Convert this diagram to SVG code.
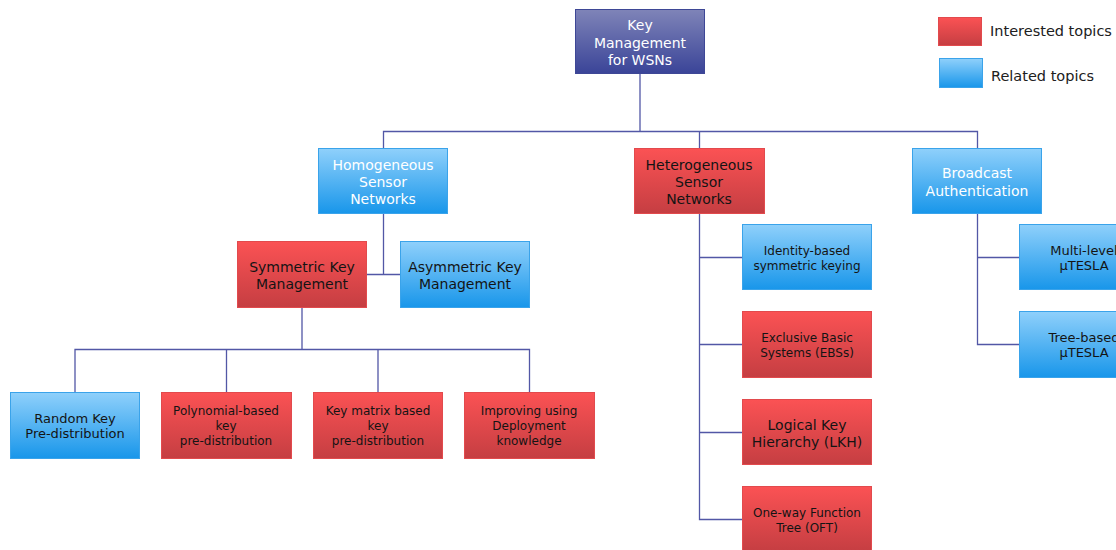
<svg xmlns="http://www.w3.org/2000/svg" width="1116" height="550" viewBox="0 0 1116 550">
<defs>
<linearGradient id="gRed" x1="0" y1="0" x2="0" y2="1"><stop offset="0" stop-color="#fb5254"/><stop offset="1" stop-color="#c53e42"/></linearGradient>
<linearGradient id="gBlue" x1="0" y1="0" x2="0" y2="1"><stop offset="0" stop-color="#8fd0fb"/><stop offset="1" stop-color="#1896ea"/></linearGradient>
<linearGradient id="gPurple" x1="0" y1="0" x2="0" y2="1"><stop offset="0" stop-color="#7f84b8"/><stop offset="1" stop-color="#3a4498"/></linearGradient>
<style>
.red{fill:url(#gRed);stroke:#e24a4d;stroke-width:1}
.blue{fill:url(#gBlue);stroke:#3aa3ea;stroke-width:1}
.purple{fill:url(#gPurple);stroke:#3e4796;stroke-width:1}
text{font-family:"DejaVu Sans",Verdana,sans-serif;text-anchor:middle;fill:#141414}
.w{fill:#ffffff}
.t14{font-size:14px}
.t13{font-size:13px}
.t12{font-size:12px}
.lg{font-size:14.5px;text-anchor:start;fill:#202020}
.conn path{fill:none;stroke:#5257a6;stroke-width:1.3}
</style>
</defs>
<rect width="1116" height="550" fill="#ffffff"/>
<g class="conn">
<path d="M640 73 V131.5 M383.5 148 V131.5 H977.5 V148 M699.5 131.5 V148"/>
<path d="M383.5 213 V274.5 M366 274.5 H400"/>
<path d="M302 307 V349.5 M75 392 V349.5 H529.5 V392 M226.5 349.5 V392 M378 349.5 V392"/>
<path d="M699.5 213 V519.5 H742 M699.5 257.5 H742 M699.5 344.5 H742 M699.5 432.5 H742"/>
<path d="M977.5 213 V344.5 H1019 M977.5 257.5 H1019"/>
</g>
<g id="root"><rect class="purple" x="575.5" y="9.5" width="129" height="64"/>
<text class="t14 w" x="640" y="30">Key</text><text class="t14 w" x="640" y="47.5">Management</text><text class="t14 w" x="640" y="64.5">for WSNs</text></g>
<g id="legend-red"><rect class="red" x="938.5" y="17.5" width="43" height="28"/><text class="lg" x="990" y="36">Interested topics</text></g>
<g id="legend-blue"><rect class="blue" x="939.5" y="58.5" width="43" height="29"/><text class="lg" x="991" y="81">Related topics</text></g>
<g id="homogeneous"><rect class="blue" x="318.5" y="148.5" width="129" height="65"/>
<text class="t14 w" x="383" y="169.5">Homogeneous</text><text class="t14 w" x="383" y="187">Sensor</text><text class="t14 w" x="383" y="204">Networks</text></g>
<g id="heterogeneous"><rect class="red" x="634.5" y="148.5" width="130" height="65"/>
<text class="t14" x="699" y="169.5">Heterogeneous</text><text class="t14" x="699" y="187">Sensor</text><text class="t14" x="699" y="204">Networks</text></g>
<g id="broadcast"><rect class="blue" x="912.5" y="148.5" width="129" height="65"/>
<text class="t14 w" x="977" y="178">Broadcast</text><text class="t14 w" x="977" y="195.5">Authentication</text></g>
<g id="symmetric"><rect class="red" x="237.5" y="241.5" width="129" height="66"/>
<text class="t14" x="302" y="272">Symmetric Key</text><text class="t14" x="302" y="289">Management</text></g>
<g id="asymmetric"><rect class="blue" x="400.5" y="241.5" width="129" height="66"/>
<text class="t14" x="465" y="272">Asymmetric Key</text><text class="t14" x="465" y="289">Management</text></g>
<g id="random"><rect class="blue" x="10.5" y="392.5" width="129" height="66"/>
<text class="t13" x="75" y="422.5">Random Key</text><text class="t13" x="75" y="438">Pre-distribution</text></g>
<g id="polynomial"><rect class="red" x="161.5" y="392.5" width="130" height="66"/>
<text class="t12" x="226" y="415">Polynomial-based</text><text class="t12" x="226" y="430">key</text><text class="t12" x="226" y="445">pre-distribution</text></g>
<g id="keymatrix"><rect class="red" x="313.5" y="392.5" width="129" height="66"/>
<text class="t12" x="378" y="415">Key matrix based</text><text class="t12" x="378" y="430">key</text><text class="t12" x="378" y="445">pre-distribution</text></g>
<g id="improving"><rect class="red" x="464.5" y="392.5" width="130" height="66"/>
<text class="t12" x="529" y="415">Improving using</text><text class="t12" x="529" y="430">Deployment</text><text class="t12" x="529" y="445">knowledge</text></g>
<g id="identity"><rect class="blue" x="742.5" y="224.5" width="129" height="65"/>
<text class="t12" x="807" y="254.5">Identity-based</text><text class="t12" x="807" y="269.5">symmetric keying</text></g>
<g id="ebs"><rect class="red" x="742.5" y="311.5" width="129" height="66"/>
<text class="t12" x="807" y="342">Exclusive Basic</text><text class="t12" x="807" y="357">Systems (EBSs)</text></g>
<g id="lkh"><rect class="red" x="742.5" y="399.5" width="129" height="65"/>
<text class="t14" x="807" y="429.5">Logical Key</text><text class="t14" x="807" y="446.5">Hierarchy (LKH)</text></g>
<g id="oft"><rect class="red" x="742.5" y="486.5" width="129" height="65"/>
<text class="t12" x="807" y="516.5">One-way Function</text><text class="t12" x="807" y="531.5">Tree (OFT)</text></g>
<g id="multilevel"><rect class="blue" x="1019.5" y="224.5" width="129" height="65"/>
<text class="t13" x="1084" y="254.5">Multi-level</text><text class="t13" x="1084" y="269.5">µTESLA</text></g>
<g id="treebased"><rect class="blue" x="1019.5" y="311.5" width="129" height="66"/>
<text class="t13" x="1084" y="342">Tree-based</text><text class="t13" x="1084" y="357">µTESLA</text></g>
</svg>
